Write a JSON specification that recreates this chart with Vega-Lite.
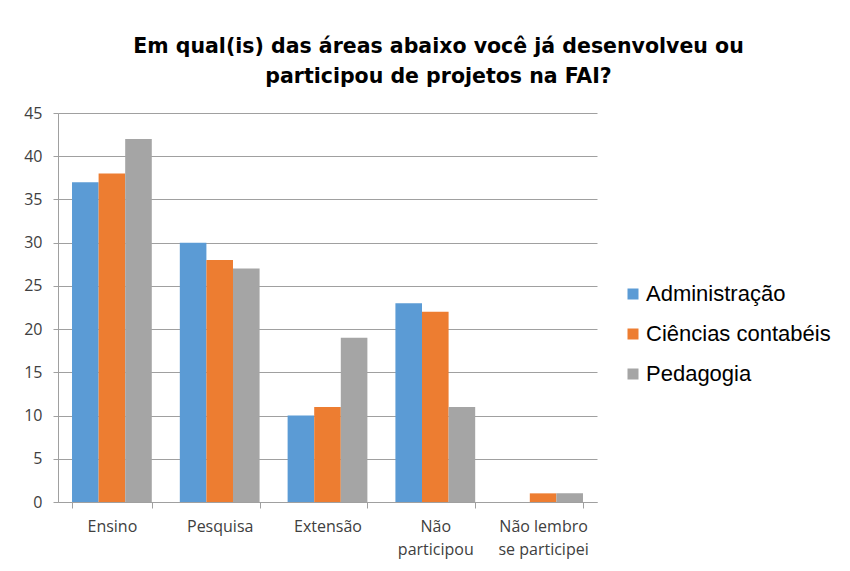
{
  "$schema": "https://vega.github.io/schema/vega-lite/v6.json",
  "autosize": "none",
  "width": 539,
  "height": 389,
  "padding": {"left": 58, "top": 113, "right": 253, "bottom": 69},
  "background": "white",
  "title": {
    "text": ["Em qual(is) das áreas abaixo você já desenvolveu ou", "participou de projetos na FAI?"],
    "anchor": "middle",
    "dx": 111,
    "offset": 18,
    "font": "DejaVu Sans",
    "fontSize": 20.5,
    "fontWeight": "bold",
    "color": "#000000",
    "lineHeight": 30
  },
  "data": {
    "values": [
      {"area": "Ensino", "curso": "Administração", "valor": 37},
      {"area": "Ensino", "curso": "Ciências contabéis", "valor": 38},
      {"area": "Ensino", "curso": "Pedagogia", "valor": 42},
      {"area": "Pesquisa", "curso": "Administração", "valor": 30},
      {"area": "Pesquisa", "curso": "Ciências contabéis", "valor": 28},
      {"area": "Pesquisa", "curso": "Pedagogia", "valor": 27},
      {"area": "Extensão", "curso": "Administração", "valor": 10},
      {"area": "Extensão", "curso": "Ciências contabéis", "valor": 11},
      {"area": "Extensão", "curso": "Pedagogia", "valor": 19},
      {"area": "Não participou", "curso": "Administração", "valor": 23},
      {"area": "Não participou", "curso": "Ciências contabéis", "valor": 22},
      {"area": "Não participou", "curso": "Pedagogia", "valor": 11},
      {"area": "Não lembro se participei", "curso": "Administração", "valor": 0},
      {"area": "Não lembro se participei", "curso": "Ciências contabéis", "valor": 1},
      {"area": "Não lembro se participei", "curso": "Pedagogia", "valor": 1}
    ]
  },
  "mark": {"type": "bar"},
  "encoding": {
    "x": {
      "field": "area",
      "type": "nominal",
      "sort": null,
      "scale": {"paddingInner": 0.26, "paddingOuter": 0.13},
      "axis": {
        "title": null,
        "labelAngle": 0,
        "labelFont": "Open Sans",
        "labelFontSize": 16,
        "labelColor": "#404040",
        "labelPadding": 10,
        "labelLineHeight": 23,
        "tickBand": "extent",
        "tickSize": 6,
        "tickColor": "#A0A0A0",
        "domainColor": "#A0A0A0",
        "labelExpr": "datum.value == 'Não participou' ? ['Não', 'participou'] : datum.value == 'Não lembro se participei' ? ['Não lembro', 'se participei'] : datum.value"
      }
    },
    "xOffset": {"field": "curso", "type": "nominal", "sort": null},
    "y": {
      "field": "valor",
      "type": "quantitative",
      "scale": {"domain": [0, 45]},
      "axis": {
        "title": null,
        "values": [0, 5, 10, 15, 20, 25, 30, 35, 40, 45],
        "labelFont": "Open Sans",
        "labelFontSize": 16,
        "labelColor": "#404040",
        "labelPadding": 11,
        "tickSize": 5,
        "tickColor": "#A0A0A0",
        "domainColor": "#A0A0A0",
        "gridColor": "#A0A0A0",
        "grid": true
      }
    },
    "color": {
      "field": "curso",
      "type": "nominal",
      "sort": null,
      "scale": {"range": ["#5B9BD5", "#ED7D31", "#A5A5A5"]},
      "legend": {
        "title": null,
        "orient": "none",
        "legendX": 564,
        "legendY": 170,
        "symbolType": "square",
        "symbolSize": 121,
        "symbolStrokeWidth": 0,
        "labelFont": "Liberation Sans",
        "labelFontSize": 22,
        "labelColor": "#000000",
        "labelLimit": 400,
        "rowPadding": 18,
        "labelOffset": 2
      }
    }
  },
  "config": {"view": {"stroke": null}}
}
